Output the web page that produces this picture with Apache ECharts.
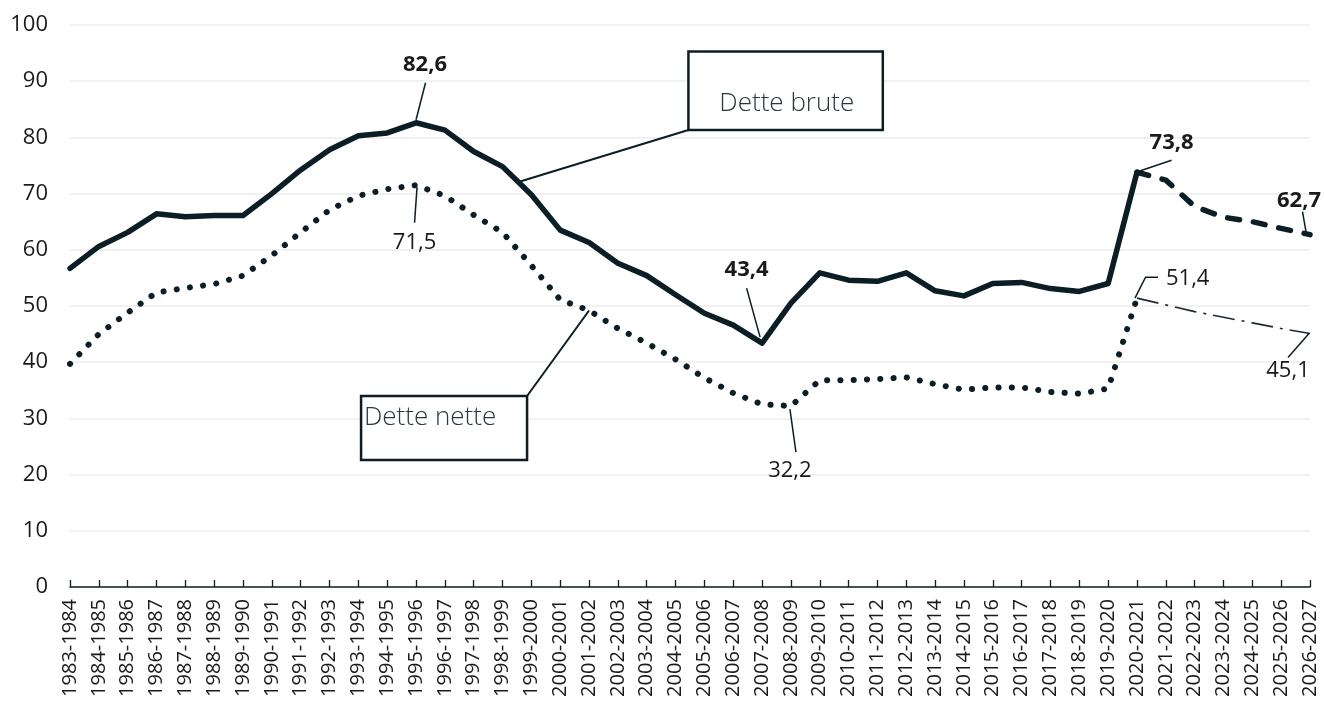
<!DOCTYPE html>
<html><head><meta charset="utf-8">
<script src="https://cdn.jsdelivr.net/npm/echarts@6/dist/echarts.min.js"></script>
<style>html,body{margin:0;padding:0;background:#fff}#c{width:1324px;height:704px}</style>
</head><body><div id="c"></div>
<script>
const categories = ['1983-1984','1984-1985','1985-1986','1986-1987','1987-1988','1988-1989','1989-1990','1990-1991','1991-1992','1992-1993','1993-1994','1994-1995','1995-1996','1996-1997','1997-1998','1998-1999','1999-2000','2000-2001','2001-2002','2002-2003','2003-2004','2004-2005','2005-2006','2006-2007','2007-2008','2008-2009','2009-2010','2010-2011','2011-2012','2012-2013','2013-2014','2014-2015','2015-2016','2016-2017','2017-2018','2018-2019','2019-2020','2020-2021','2021-2022','2022-2023','2023-2024','2024-2025','2025-2026','2026-2027'];
const grossDebt = [56.7,60.6,63.1,66.4,65.9,66.1,66.1,70.0,74.2,77.8,80.3,80.8,82.6,81.3,77.5,74.8,69.8,63.5,61.3,57.6,55.4,52.0,48.7,46.6,43.4,50.5,55.9,54.6,54.4,55.9,52.7,51.8,54.0,54.2,53.1,52.6,54.0,73.8,72.4,67.7,65.8,65.0,63.8,62.7];
const netDebt = [39.7,45.0,48.8,52.4,53.2,53.9,55.4,59.0,63.1,67.1,69.6,70.8,71.5,69.6,66.2,63.1,57.2,51.1,49.2,46.0,43.4,40.5,37.2,34.5,32.5,32.2,36.8,36.8,37.0,37.3,36.1,35.1,35.5,35.5,34.7,34.4,35.3,51.4,50.2,49.0,48.0,47.0,46.0,45.1];
const projectionStart = 37;
const yMin = 0, yMax = 100, yStep = 10;
const seriesNames = {gross: 'Dette brute', net: 'Dette nette'};

const INK = '#0c1e25';
const TXT = '#1a1a1a';
const FONT = '"Open Sans", "Noto Sans", sans-serif';

const chart = echarts.init(document.getElementById('c'), null, {renderer: 'canvas'});
const upTo = (arr, k) => arr.map((v, i) => i <= k ? v : null);
const from = (arr, k) => arr.map((v, i) => i >= k ? v : null);

chart.setOption({
  animation: false,
  backgroundColor: '#fff',
  grid: {left: 70, right: 14, top: 25, bottom: 117, containLabel: false},
  xAxis: {
    type: 'category', data: categories, boundaryGap: false,
    axisLine: {lineStyle: {color: INK, width: 1.5}},
    axisTick: {show: true, inside: true, length: 7, interval: 0, lineStyle: {color: INK, width: 1.3}},
    axisLabel: {rotate: 90, interval: 0, margin: 12, fontFamily: FONT, fontSize: 20, color: TXT},
    splitLine: {show: false}
  },
  yAxis: {
    type: 'value', min: yMin, max: yMax, interval: yStep,
    axisLine: {show: false}, axisTick: {show: false},
    axisLabel: {margin: 22, fontFamily: FONT, fontSize: 22, color: TXT},
    splitLine: {lineStyle: {color: '#ececec', width: 1.5}}
  },
  series: [
    {name: seriesNames.gross, type: 'line', data: upTo(grossDebt, projectionStart), symbol: 'none', z: 4,
     lineStyle: {color: INK, width: 5.5, cap: 'round', join: 'round'}},
    {name: seriesNames.gross + ' (prévision)', type: 'line', data: from(grossDebt, projectionStart), symbol: 'none', z: 4,
     lineStyle: {color: INK, width: 5.5, type: [12, 14], cap: 'round', join: 'round'}},
    {name: seriesNames.net, type: 'line', data: upTo(netDebt, projectionStart), symbol: 'none', z: 3,
     lineStyle: {color: INK, width: 6, type: [0.1, 13.2], cap: 'round', join: 'round'}},
    {name: seriesNames.net + ' (prévision)', type: 'line', data: from(netDebt, projectionStart), symbol: 'none', z: 3,
     lineStyle: {color: '#1e2b30', width: 1.6, type: [22, 7, 3, 7]}}
  ]
});

// value annotations: anchor (series, index), leader points and label offsets in px relative to the anchor
const annotations = [
  {s: 'gross', i: 12, bold: true, pts: [[0, -3], [9.5, -40]], lbl: [9, -58], align: 'center'},
  {s: 'net', i: 12, bold: false, pts: [[1, 2], [-1.5, 37.5]], lbl: [-1.5, 57.5], align: 'center'},
  {s: 'gross', i: 24, bold: true, pts: [[-2, -6], [-15.5, -55]], lbl: [-15.5, -73], align: 'center'},
  {s: 'net', i: 25, bold: false, pts: [[-1, 3], [5, 46]], lbl: [-1, 65], align: 'center'},
  {s: 'gross', i: 37, bold: true, pts: [[2, -1], [34.6, -12]], lbl: [34.6, -29.5], align: 'center'},
  {s: 'gross', i: 43, bold: true, pts: [[-3.5, 0], [-7.5, -23]], lbl: [-11, -34], align: 'center'},
  {s: 'net', i: 37, bold: false, pts: [[-2, 0], [8.6, -21], [21, -21]], lbl: [29, -19], align: 'left'},
  {s: 'net', i: 43, bold: false, pts: [[-1, 0], [-22, 24]], lbl: [-22, 37], align: 'center'}
];

const dataOf = {gross: grossDebt, net: netDebt};
const px = (s, i) => chart.convertToPixel({gridIndex: 0}, [i, dataOf[s][i]]);
const fmt = v => v.toFixed(1).replace('.', ',');

const g = [];
annotations.forEach(a => {
  const p = px(a.s, a.i);
  g.push({type: 'polyline', z: 10, silent: true,
    shape: {points: a.pts.map(q => [p[0] + q[0], p[1] + q[1]])},
    style: {stroke: INK, lineWidth: 1.5, fill: null}});
  g.push({type: 'text', z: 11, silent: true, x: p[0] + a.lbl[0], y: p[1] + a.lbl[1],
    style: {text: fmt(dataOf[a.s][a.i]), fill: TXT, font: (a.bold ? 'bold ' : '') + '22px ' + FONT,
      align: a.align, textAlign: a.align, verticalAlign: 'middle', textVerticalAlign: 'middle'}});
});

// callout boxes for the series names
const callouts = [
  {s: 'gross', i0: 15, i1: 16, t: 0.55, text: seriesNames.gross, corner: [170, -52], box: {dx: 0, dy: -78.6, w: 194.4, h: 78.6}, txt: [98.4, 52.6]},
  {s: 'net', i0: 18, i1: 18, t: 0, text: seriesNames.net, corner: [-62, 85.5], box: {dx: -166, dy: 0, w: 166, h: 64}, txt: [69, 22]}
];
callouts.forEach(c => {
  const a = px(c.s, c.i0), b = px(c.s, c.i1);
  const p = [a[0] + (b[0] - a[0]) * c.t, a[1] + (b[1] - a[1]) * c.t];
  const cx = p[0] + c.corner[0], cy = p[1] + c.corner[1];
  g.push({type: 'line', z: 10, silent: true, shape: {x1: p[0], y1: p[1], x2: cx, y2: cy},
    style: {stroke: INK, lineWidth: 2}});
  const bx = cx + c.box.dx, by = cy + c.box.dy;
  g.push({type: 'rect', z: 12, silent: true, shape: {x: bx, y: by, width: c.box.w, height: c.box.h},
    style: {fill: '#fff', stroke: INK, lineWidth: 2.5}});
  g.push({type: 'text', z: 13, silent: true, x: bx + c.txt[0], y: by + c.txt[1],
    style: {text: c.text, fill: '#2a383e', font: '300 26px ' + FONT,
      align: 'center', textAlign: 'center', verticalAlign: 'middle', textVerticalAlign: 'middle'}});
});

chart.setOption({graphic: {elements: g}});
</script>
</body></html>
